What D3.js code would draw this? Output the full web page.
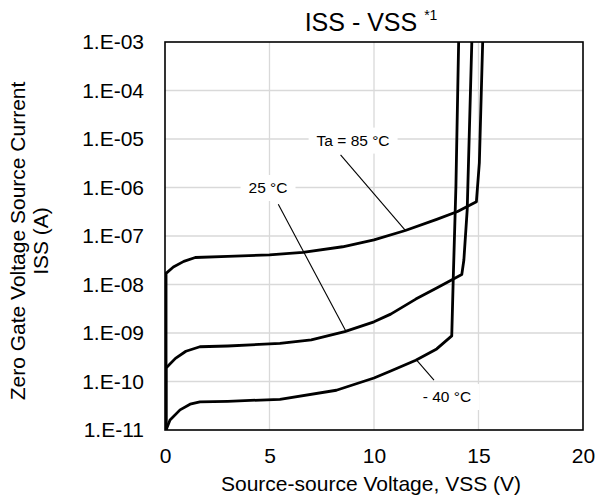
<!DOCTYPE html>
<html><head><meta charset="utf-8">
<script src="https://cdn.jsdelivr.net/npm/d3@7"></script>
<style>html,body{margin:0;padding:0;background:#fff}svg{display:block}</style>
</head><body>
<svg id="chart" width="597" height="499"></svg>
<script>
// ---- data (V in volts, ISS in amperes) ----
const xTicks = [0, 5, 10, 15, 20];
const yTicks = [1e-3, 1e-4, 1e-5, 1e-6, 1e-7, 1e-8, 1e-9, 1e-10, 1e-11];
const yTickLabels = ["1.E-03","1.E-04","1.E-05","1.E-06","1.E-07","1.E-08","1.E-09","1.E-10","1.E-11"];

const v85 = [0.05,0.05,0.4,0.9,1.45,3,5,6.6,8.5,10,11.5,13,14,14.9,15.04,15.2];
const i85 = [1e-11,1.7e-8,2.3e-8,3.0e-8,3.6e-8,3.8e-8,4.1e-8,4.6e-8,6.0e-8,8.3e-8,1.3e-7,2.2e-7,3.2e-7,5.1e-7,3.2e-6,1e-3];

const v25 = [0.05,0.05,0.5,1.0,1.67,3,5.5,7,8.6,10,10.8,12,13,13.8,14.2,14.3,14.46,14.68];
const i25 = [1e-11,1.9e-10,3.0e-10,4.2e-10,5.2e-10,5.4e-10,6.1e-10,7.2e-10,1.07e-9,1.7e-9,2.45e-9,5.0e-9,8.5e-9,1.3e-8,1.6e-8,3.2e-8,3.5e-7,1e-3];

const vm40 = [0.05,0.24,0.72,1.2,1.67,3,5.5,8.2,10,10.8,12,13,13.72,13.79,13.92,14.05];
const im40 = [1e-11,1.6e-11,2.6e-11,3.4e-11,3.8e-11,3.9e-11,4.3e-11,6.6e-11,1.18e-10,1.65e-10,2.75e-10,4.7e-10,8.7e-10,1.23e-8,1.07e-6,1e-3];

const labelTexts = ["Ta = 85 °C", "25 °C", "- 40 °C"];
const labelV = [9.0, 4.93, 13.49];
const labelI = [9.5e-6, 1e-6, 4.9e-11];
const leaderV0 = [8.40, 5.42, 12.87];
const leaderI0 = [4.7e-6, 4.5e-7, 1.07e-10];
const leaderV1 = [11.5, 8.65, 12.04];
const leaderI1 = [1.3e-7, 1.1e-9, 2.75e-10];

// ---- layout ----
const W = 597, H = 499;
const m = {left:165, right:14, top:42, bottom:69};
const pw = W - m.left - m.right, ph = H - m.top - m.bottom;
const FONT = "'Liberation Sans', Arial, sans-serif";

const svg = d3.select("#chart").style("font-family", FONT);
const x = d3.scaleLinear().domain([0,20]).range([m.left, m.left+pw]);
const y = d3.scaleLog().domain([1e-11,1e-3]).range([m.top+ph, m.top]);

// grid
const g = svg.append("g");
g.selectAll(".hg").data(yTicks.slice(1,-1)).join("line")
  .attr("x1", m.left).attr("x2", m.left+pw)
  .attr("y1", d=>y(d)).attr("y2", d=>y(d))
  .attr("stroke", "#d9d9d9").attr("stroke-width", 1.3);
g.selectAll(".vg").data(xTicks.slice(1,-1)).join("line")
  .attr("y1", m.top).attr("y2", m.top+ph)
  .attr("x1", d=>x(d)).attr("x2", d=>x(d))
  .attr("stroke", "#d9d9d9").attr("stroke-width", 1.3);

// label backgrounds
const lblSize = 15.5;
labelTexts.forEach((t,k)=>{
  const tx = svg.append("text").attr("font-size", lblSize).text(t);
  const w = tx.node().getComputedTextLength();
  tx.remove();
  const cx = x(labelV[k]), cy = y(labelI[k]);
  svg.append("rect").attr("x", cx - w/2 - 8).attr("y", cy - 12.5)
    .attr("width", w + 16).attr("height", 26).attr("fill", "#fff");
});

// axes
const yAxis = d3.axisLeft(y).tickValues(yTicks).tickFormat((d,i)=>yTickLabels[i]).tickSize(0).tickPadding(21);
const ga = svg.append("g").attr("transform", `translate(${m.left},0)`).call(yAxis);
ga.select(".domain").remove();
ga.selectAll("text").attr("font-size", 21).attr("font-family", FONT).attr("fill", "#000");

const xAxis = d3.axisBottom(x).tickValues(xTicks).tickFormat(d3.format("d")).tickSize(0).tickPadding(18);
const gx = svg.append("g").attr("transform", `translate(0,${m.top+ph})`).call(xAxis);
gx.select(".domain").remove();
gx.selectAll("text").attr("font-size", 21).attr("font-family", FONT).attr("fill", "#000");

// clip
svg.append("clipPath").attr("id","clip").append("rect")
  .attr("x", m.left).attr("y", m.top).attr("width", pw).attr("height", ph);

// curves
const line = d3.line().x(d=>x(d[0])).y(d=>y(d[1])).curve(d3.curveLinear);
const series = [[v85,i85],[v25,i25],[vm40,im40]];
svg.append("g").attr("clip-path","url(#clip)")
  .selectAll("path").data(series).join("path")
  .attr("d", s => line(s[0].map((v,i)=>[v, s[1][i]])))
  .attr("fill","none").attr("stroke","#000").attr("stroke-width",2.8)
  .attr("stroke-linejoin","round");

// border
svg.append("rect").attr("x", m.left).attr("y", m.top).attr("width", pw).attr("height", ph)
  .attr("fill","none").attr("stroke","#000").attr("stroke-width",1.6);

// leaders
svg.selectAll(".leader").data(labelTexts).join("line")
  .attr("x1",(d,k)=>x(leaderV0[k])).attr("y1",(d,k)=>y(leaderI0[k]))
  .attr("x2",(d,k)=>x(leaderV1[k])).attr("y2",(d,k)=>y(leaderI1[k]))
  .attr("stroke","#000").attr("stroke-width",1.1);

// labels
svg.selectAll(".lbl").data(labelTexts).join("text")
  .attr("x",(d,k)=>x(labelV[k])).attr("y",(d,k)=>y(labelI[k]))
  .attr("dy","0.35em").attr("text-anchor","middle")
  .attr("font-size", lblSize).attr("fill","#000").text(d=>d);

// title
const title = svg.append("text").attr("x", 371).attr("y", 31).attr("text-anchor","middle")
  .attr("font-size", 25).attr("fill","#000");
title.append("tspan").text("ISS - VSS ");
title.append("tspan").attr("font-size", 14).attr("dy", -11).text("*1");

// axis titles
svg.append("text").attr("x", 371).attr("y", 491).attr("text-anchor","middle")
  .attr("font-size", 21).attr("fill","#000").text("Source-source Voltage, VSS (V)");
const yl = svg.append("text").attr("transform", `translate(0,241) rotate(-90)`)
  .attr("text-anchor","middle").attr("font-size", 21).attr("fill","#000");
yl.append("tspan").attr("x",0).attr("y",25).text("Zero Gate Voltage Source Current");
yl.append("tspan").attr("x",0).attr("y",48).text("ISS (A)");
</script>
</body></html>
